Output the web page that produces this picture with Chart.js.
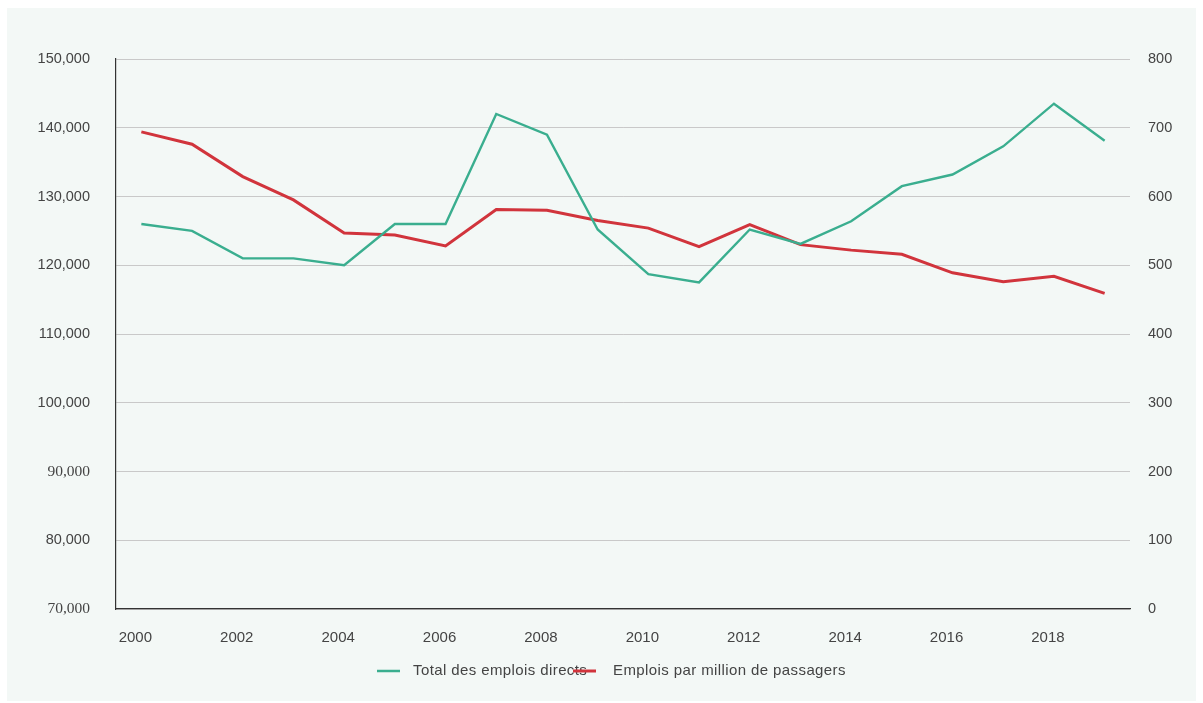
<!DOCTYPE html>
<html lang="fr">
<head>
    <meta charset="UTF-8">
    <title>Emplois directs</title>
    <script src="https://cdn.jsdelivr.net/npm/chart.js"></script>
    <style>
        body { margin: 0; background: #fff; }
        #chart { display: block; }
    </style>
</head>
<body>
    <div style="width:1203px;height:703px;">
        <canvas id="chart" width="1203" height="703"></canvas>
    </div>
    <script>
        const years = ['2000', '2001', '2002', '2003', '2004', '2005', '2006', '2007', '2008', '2009',
                       '2010', '2011', '2012', '2013', '2014', '2015', '2016', '2017', '2018', '2019'];
        // total des emplois directs (axe gauche)
        const totalJobs = [126000, 125000, 121000, 121000, 120000, 126000, 126000, 142000, 139000, 125200,
                           118700, 117500, 125200, 123100, 126400, 131500, 133200, 137300, 143500, 138100];
        // emplois par million de passagers (axe droit)
        const jobsPerMillion = [694, 676, 629, 595, 547, 544, 528, 581, 580, 565,
                                554, 527, 559, 530, 522, 516, 489, 476, 484, 459];
        const seriesNames = ['Total des emplois directs', 'Emplois par million de passagers'];

        const GREEN = '#3aae8f';
        const RED = '#d1343c';
        const SANS = '"Liberation Sans", Arial, sans-serif';

        // light panel behind everything
        const panelBg = {
            id: 'panelBg',
            beforeDraw(chart) {
                const c = chart.ctx;
                c.save();
                c.fillStyle = '#f3f8f6';
                c.fillRect(7, 8, 1189, 693);
                c.restore();
            }
        };

        // simple legend row under the x axis
        const bottomLegend = {
            id: 'bottomLegend',
            afterDraw(chart) {
                const c = chart.ctx;
                const y = 671;
                const items = [
                    { color: GREEN, x: 377, text: seriesNames[0], tx: 413, w: 2.5 },
                    { color: RED, x: 573, text: seriesNames[1], tx: 613, w: 3 }
                ];
                c.save();
                c.font = '15px ' + SANS;
                c.letterSpacing = '0.4px';
                c.textBaseline = 'middle';
                items.forEach(it => {
                    c.fillStyle = '#444';
                    c.fillText(it.text, it.tx, y);
                });
                items.forEach(it => {
                    c.strokeStyle = it.color;
                    c.lineWidth = it.w;
                    c.beginPath();
                    c.moveTo(it.x, y);
                    c.lineTo(it.x + 23, y);
                    c.stroke();
                });
                c.restore();
            }
        };

        const ctx = document.getElementById('chart');
        new Chart(ctx, {
            type: 'line',
            data: {
                labels: years,
                datasets: [{
                    label: seriesNames[0],
                    data: totalJobs,
                    yAxisID: 'y',
                    borderColor: GREEN,
                    backgroundColor: GREEN,
                    borderWidth: 2.4,
                    pointRadius: 0,
                    tension: 0,
                    fill: false
                }, {
                    label: seriesNames[1],
                    data: jobsPerMillion,
                    yAxisID: 'y1',
                    borderColor: RED,
                    backgroundColor: RED,
                    borderWidth: 3,
                    pointRadius: 0,
                    tension: 0,
                    fill: false
                }]
            },
            options: {
                responsive: false,
                animation: false,
                layout: { padding: { top: 59, bottom: 54, left: 0, right: 0 } },
                plugins: {
                    legend: { display: false },
                    tooltip: { enabled: false }
                },
                scales: {
                    x: {
                        offset: true,
                        afterFit(scale) { scale.height = 40; },
                        grid: { display: false, drawTicks: false },
                        border: { display: true, color: '#333', width: 1.2 },
                        ticks: {
                            autoSkip: false,
                            maxRotation: 0,
                            padding: 20,
                            labelOffset: -6,
                            color: '#444',
                            font: { family: SANS, size: 15 },
                            callback(value, index) {
                                return index % 2 === 0 ? years[index] : '';
                            }
                        }
                    },
                    y: {
                        position: 'left',
                        min: 70000,
                        max: 150000,
                        afterFit(scale) { scale.width = 116; },
                        grid: { color: '#c9c9c9', lineWidth: 1, drawTicks: false },
                        border: { display: true, color: '#333', width: 1.2 },
                        ticks: {
                            stepSize: 10000,
                            padding: 26,
                            color: '#444',
                            font(c) {
                                const v = c.tick && c.tick.value;
                                const serif = v === 70000 || v === 90000;
                                return {
                                    family: serif ? '"Liberation Serif", "Times New Roman", serif' : SANS,
                                    size: serif ? 15.5 : 14.5
                                };
                            },
                            callback: v => v.toLocaleString('en-US')
                        }
                    },
                    y1: {
                        position: 'right',
                        min: 0,
                        max: 800,
                        afterFit(scale) { scale.width = 73; },
                        grid: { display: false, drawTicks: false },
                        border: { display: false },
                        ticks: {
                            stepSize: 100,
                            padding: 18,
                            color: '#444',
                            font: { family: SANS, size: 14.5 }
                        }
                    }
                }
            },
            plugins: [panelBg, bottomLegend]
        });
    </script>
</body>
</html>
